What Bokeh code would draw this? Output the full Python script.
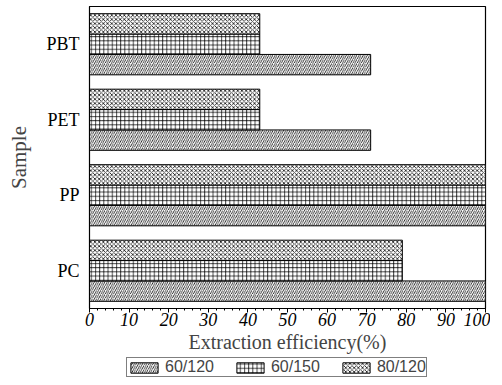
from bokeh.plotting import figure
from bokeh.layouts import column
from bokeh.models import FactorRange, Range1d, SingleIntervalTicker, Legend, ColumnDataSource
from bokeh.transform import dodge
from bokeh.embed import file_html
from bokeh.resources import INLINE

samples = ["PC", "PP", "PET", "PBT"]
s_60_120 = [100, 100, 71, 71]
s_60_150 = [79, 100, 43, 43]
s_80_120 = [79, 100, 43, 43]
series_names = ["60/120", "60/150", "80/120"]
patterns = ["/", "+", "x"]

src = ColumnDataSource(dict(sample=samples, a=s_60_120, b=s_60_150, c=s_80_120))

p = figure(width=490, height=355, y_range=FactorRange(*samples), x_range=Range1d(0, 100),
           output_backend="svg", toolbar_location=None,
           min_border_left=89, min_border_right=5, min_border_top=6, min_border_bottom=40)

bw = 0.27
offsets = [-bw, 0, bw]
hatch_kw = dict(fill_color="white", line_color="black", line_width=1,
                hatch_color="black", hatch_scale=4.2, hatch_weight=0.75)
for col, off, pat in zip(["a", "b", "c"], offsets, patterns):
    p.hbar(y=dodge("sample", off, range=p.y_range), right=col, left=0, height=bw, source=src,
           hatch_pattern=pat, **hatch_kw)

p.xgrid.visible = False
p.ygrid.visible = False
p.outline_line_color = "black"
p.outline_line_width = 1.2

xa = p.xaxis[0]
xa.ticker = SingleIntervalTicker(interval=10, num_minor_ticks=5)
xa.major_label_text_font = "Liberation Serif"
xa.major_label_text_font_style = "italic"
xa.major_label_text_font_size = "18px"
xa.major_label_text_color = "black"
xa.major_tick_in = 0
xa.major_tick_out = 4
xa.minor_tick_in = 0
xa.minor_tick_out = 2
xa.major_label_standoff = 0
xa.axis_label = "Extraction efficiency(%)"
xa.axis_label_text_font = "Liberation Serif"
xa.axis_label_text_font_style = "normal"
xa.axis_label_text_font_size = "20px"
xa.axis_label_standoff = 2
xa.axis_line_color = "black"

ya = p.yaxis[0]
ya.major_tick_line_color = None
ya.major_label_text_font = "Liberation Serif"
ya.major_label_text_font_size = "18px"
ya.major_label_text_color = "black"
ya.major_label_standoff = 4
ya.axis_label = "Sample"
ya.axis_label_text_font = "Liberation Serif"
ya.axis_label_text_font_style = "normal"
ya.axis_label_text_font_size = "21px"
ya.axis_label_standoff = 12

# legend in a separate strip below the chart
lf = figure(width=490, height=22, x_range=Range1d(0, 1), y_range=Range1d(0, 1),
            output_backend="svg", toolbar_location=None,
            min_border_left=89, min_border_right=5, min_border_top=0, min_border_bottom=0)
lf.axis.visible = False
lf.grid.visible = False
lf.outline_line_color = None
lrs = []
for pat in patterns:
    dummy = ColumnDataSource(dict(y=[-5], right=[0]))
    lrs.append(lf.hbar(y="y", right="right", left=0, height=0.1, source=dummy,
                       hatch_pattern=pat, **hatch_kw))
legend = Legend(items=[(n, [r]) for n, r in zip(series_names, lrs)],
                orientation="horizontal", location=(37, 0),
                label_text_font="Liberation Sans", label_text_font_size="16px",
                glyph_width=34, glyph_height=13, spacing=19, padding=0, margin=0,
                label_standoff=4, border_line_color="black", border_line_width=1,
                label_height=15, background_fill_alpha=1)
lf.add_layout(legend, "center")

open("out.html", "w").write(file_html(column(p, lf, spacing=0), INLINE))
